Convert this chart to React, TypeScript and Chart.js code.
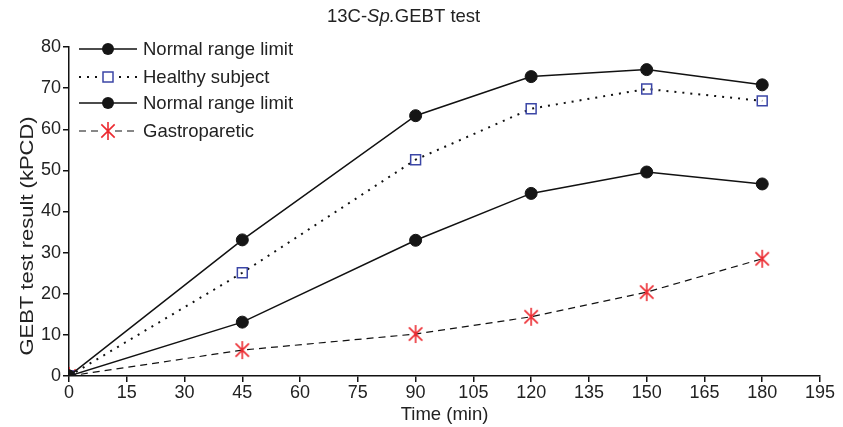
import React, { useEffect, useRef } from "react";
import { Chart, registerables } from "chart.js";

Chart.register(...registerables);

const times = [0, 45, 90, 120, 150, 180];
const upperLimit = [0, 33.1, 63.3, 72.8, 74.5, 70.8];
const healthy = [0, 25.1, 52.6, 65.0, 69.8, 66.9];
const lowerLimit = [0, 13.1, 33.0, 44.4, 49.6, 46.7];
const gastroparetic = [0, 6.3, 10.2, 14.4, 20.4, 28.5];

const legendLabels = ["Normal range limit", "Healthy subject", "Normal range limit", "Gastroparetic"];
const titleParts = ["13C-", "Sp.", "GEBT test"];
const xTitle = "Time (min)";
const yTitle = "GEBT test result (kPCD)";

const FONT = "'Liberation Sans', Arial, sans-serif";
const BLUE = "#3b46a6";
const RED = "#ec2a30";
const INK = "#222";

const toPts = (ys: number[]) => times.map((t, i) => ({ x: t, y: ys[i] }));

function makeAsterisk(): HTMLCanvasElement {
  const c = document.createElement("canvas");
  c.width = 20;
  c.height = 20;
  const g = c.getContext("2d")!;
  g.strokeStyle = RED;
  g.lineWidth = 1.6;
  g.lineCap = "butt";
  const cx = 10, cy = 10, L = 9;
  const angles = [90, 45, -45];
  g.beginPath();
  angles.forEach((a) => {
    const r = (a * Math.PI) / 180;
    const len = a === 90 ? L : L * 1.05;
    g.moveTo(cx - len * Math.cos(r), cy - len * Math.sin(r));
    g.lineTo(cx + len * Math.cos(r), cy + len * Math.sin(r));
  });
  g.stroke();
  return c;
}

export default function App() {
  const ref = useRef<HTMLCanvasElement | null>(null);
  useEffect(() => {
    document.body.style.margin = "0";
    const canvas = ref.current!;
    const star = makeAsterisk();
    const overlay = {
      id: "overlay",
      afterDraw(chart: any) {
        const ctx = chart.ctx as CanvasRenderingContext2D;
        ctx.save();
        // title
        ctx.fillStyle = INK;
        ctx.textBaseline = "middle";
        let x = 327;
        const ty = 17;
        titleParts.forEach((p, i) => {
          ctx.font = (i === 1 ? "italic " : "") + "18.5px " + FONT;
          ctx.fillText(p, x, ty);
          x += ctx.measureText(p).width;
        });
        // y title
        ctx.save();
        ctx.translate(28, 236);
        ctx.rotate(-Math.PI / 2);
        ctx.font = "18px " + FONT;
        ctx.scale(1.22, 1);
        ctx.textAlign = "center";
        ctx.fillText(yTitle, 0, 0);
        ctx.restore();
        // legend
        const rows = [49, 77, 103, 131];
        const ds = chart.data.datasets;
        rows.forEach((ry, i) => {
          const d = ds[i];
          ctx.save();
          ctx.strokeStyle = "#111";
          ctx.lineWidth = d.borderWidth;
          ctx.setLineDash(d.borderDash || []);
          ctx.beginPath();
          ctx.moveTo(79, ry);
          ctx.lineTo(137, ry);
          ctx.stroke();
          ctx.restore();
          ctx.save();
          const mx = 108;
          if (i === 0 || i === 2) {
            ctx.fillStyle = "#151515";
            ctx.beginPath();
            ctx.arc(mx, ry, 6, 0, Math.PI * 2);
            ctx.fill();
          } else if (i === 1) {
            ctx.fillStyle = "#fff";
            ctx.fillRect(mx - 5, ry - 5, 10, 10);
            ctx.strokeStyle = BLUE;
            ctx.lineWidth = 1.5;
            ctx.strokeRect(mx - 5, ry - 5, 10, 10);
          } else {
            ctx.fillStyle = "#fff";
            ctx.fillRect(mx - 5, ry - 2, 10, 4);
            ctx.drawImage(star, mx - 10, ry - 10);
          }
          ctx.restore();
          ctx.font = "18.5px " + FONT;
          ctx.fillStyle = INK;
          ctx.textBaseline = "middle";
          ctx.fillText(legendLabels[i], 143, ry + 1);
        });
        ctx.restore();
      },
    };
    const chart = new Chart(canvas, {
      type: "line",
      data: {
        datasets: [
          {
            data: toPts(upperLimit),
            borderColor: "#111",
            borderWidth: 1.5,
            pointStyle: "circle",
            pointRadius: 6,
            pointBackgroundColor: "#151515",
            pointBorderColor: "#151515",
            pointBorderWidth: 1,
          },
          {
            data: toPts(healthy),
            borderColor: "#111",
            borderWidth: 2,
            borderDash: [2, 6],
            pointStyle: "rect",
            pointRadius: 7,
            pointBackgroundColor: "rgba(255,255,255,0)",
            pointBorderColor: BLUE,
            pointBorderWidth: 1.5,
          },
          {
            data: toPts(lowerLimit),
            borderColor: "#111",
            borderWidth: 1.5,
            pointStyle: "circle",
            pointRadius: 6,
            pointBackgroundColor: "#151515",
            pointBorderColor: "#151515",
            pointBorderWidth: 1,
          },
          {
            data: toPts(gastroparetic),
            borderColor: "#111",
            borderWidth: 1.2,
            borderDash: [7, 5],
            pointStyle: star,
            pointRadius: 9,
            pointBackgroundColor: RED,
            pointBorderColor: RED,
            pointBorderWidth: 1.5,
          },
        ],
      },
      options: {
        animation: false,
        responsive: false,
        layout: { padding: { left: 0, right: 23, top: 47, bottom: 0 } },
        plugins: { legend: { display: false }, title: { display: false }, tooltip: { enabled: false } },
        scales: {
          x: {
            type: "linear",
            min: 0,
            max: 195,
            afterFit: (s: any) => { s.height = 51; },
            ticks: { stepSize: 15, color: INK, font: { family: FONT, size: 18 }, padding: 0 },
            grid: { drawOnChartArea: false, color: "#111", tickLength: 6, lineWidth: 1.5 },
            border: { display: true, color: "#111", width: 1.5 },
            title: { display: true, text: xTitle, color: INK, font: { family: FONT, size: 18.5 }, padding: { top: 0, bottom: 1 } },
          },
          y: {
            min: 0,
            max: 80,
            afterFit: (s: any) => { s.width = 69; },
            ticks: { stepSize: 10, color: INK, font: { family: FONT, size: 18 }, padding: 2 },
            grid: { drawOnChartArea: false, color: "#111", tickLength: 6, lineWidth: 1.5 },
            border: { display: true, color: "#111", width: 1.5 },
            title: { display: false },
          },
        },
      },
      plugins: [overlay],
    } as any);
    return () => chart.destroy();
  }, []);
  return (
    <div style={{ width: 843, height: 427 }}>
      <canvas ref={ref} width={843} height={427} style={{ display: "block" }} />
    </div>
  );
}
